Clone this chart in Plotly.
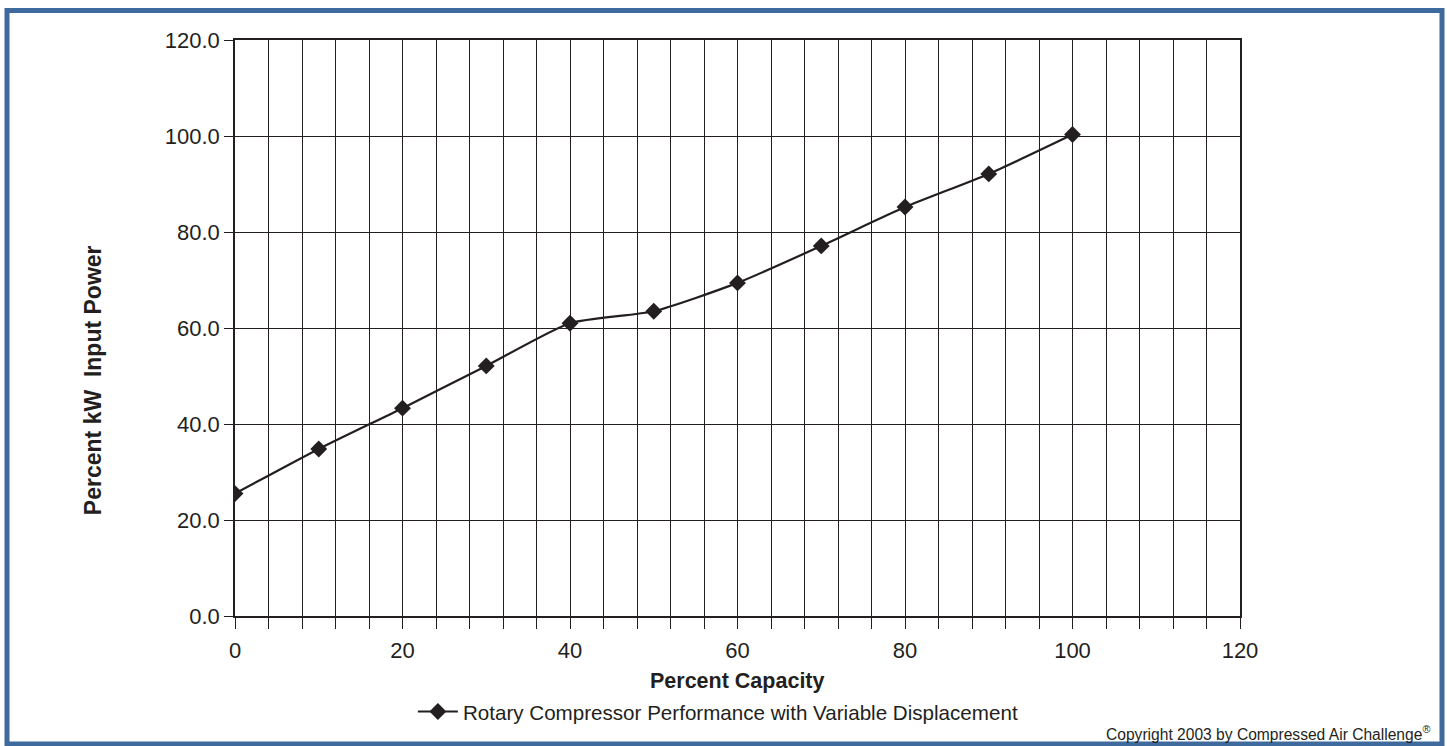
import plotly.graph_objects as go

capacity = [0, 10, 20, 30, 40, 50, 60, 70, 80, 90, 100]
power = [25.5, 34.8, 43.3, 52.1, 61.0, 63.5, 69.4, 77.1, 85.2, 92.1, 100.3]
series_name = "Rotary Compressor Performance with Variable Displacement"
x_title = "Percent Capacity"
y_title = "Percent kW&nbsp; Input Power"
copyright_text = "Copyright 2003 by Compressed Air Challenge<sup>®</sup>"

ink = "#231f20"
font_family = "Liberation Sans, Arial, Helvetica, sans-serif"

fig = go.Figure()
fig.add_trace(go.Scatter(
    x=capacity, y=power, mode="lines+markers", name=series_name,
    line=dict(color=ink, width=2.2, shape="spline", smoothing=0.6),
    marker=dict(symbol="diamond", size=13, color=ink),
))

fig.update_layout(
    width=1447, height=746,
    margin=dict(l=235, r=207, t=40, b=130),
    paper_bgcolor="white", plot_bgcolor="white",
    font=dict(family=font_family, color=ink, size=22),
    showlegend=True,
    legend=dict(orientation="h", x=0.177, xanchor="left", y=-0.166, yanchor="middle",
                font=dict(size=20.6), itemwidth=40, bgcolor="rgba(0,0,0,0)"),
    xaxis=dict(range=[0, 120], dtick=20, tick0=0, ticks="outside", ticklen=11,
               tickcolor=ink, tickwidth=1.3, showgrid=True, gridcolor=ink, gridwidth=1.3,
               showline=True, linecolor=ink, linewidth=1.5, mirror=True, zeroline=False,
               tickfont=dict(size=22), ticklabelstandoff=3,
               minor=dict(dtick=4, tick0=0, ticks="outside", ticklen=11, tickcolor=ink,
                          tickwidth=1.3, showgrid=True, gridcolor=ink, gridwidth=1.3)),
    yaxis=dict(range=[0, 120], dtick=20, tick0=0, ticks="outside", ticklen=9,
               tickcolor=ink, tickwidth=1.3, tickformat=".1f", showgrid=True, gridcolor=ink,
               gridwidth=1.3, showline=True, linecolor=ink, linewidth=1.5, mirror=True,
               zeroline=False, tickfont=dict(size=22)),
)

fig.add_annotation(text=f"<b>{x_title}</b>", xref="paper", yref="paper", x=0.5, y=-0.1128,
                   xanchor="center", yanchor="middle", showarrow=False, font=dict(size=21.5))
fig.add_annotation(text=f"<b>{y_title}</b>", xref="paper", yref="paper", x=-0.141, y=0.41,
                   xanchor="center", yanchor="middle", textangle=-90, showarrow=False,
                   font=dict(size=23))
fig.add_annotation(text=copyright_text, xref="paper", yref="paper", x=1.191, y=-0.203,
                   xanchor="right", yanchor="middle", showarrow=False, font=dict(size=15.6))

fig.add_shape(type="rect", xref="paper", yref="paper",
              x0=(7 - 235) / 1005, x1=(1442 - 235) / 1005,
              y0=(616 - 744) / 576, y1=(616 - 10.5) / 576,
              line=dict(color="#3f6a9e", width=5), fillcolor="rgba(0,0,0,0)", layer="below")

fig.write_html("out.html", config={"displayModeBar": False},
               post_script="document.body.style.margin='0px';")
